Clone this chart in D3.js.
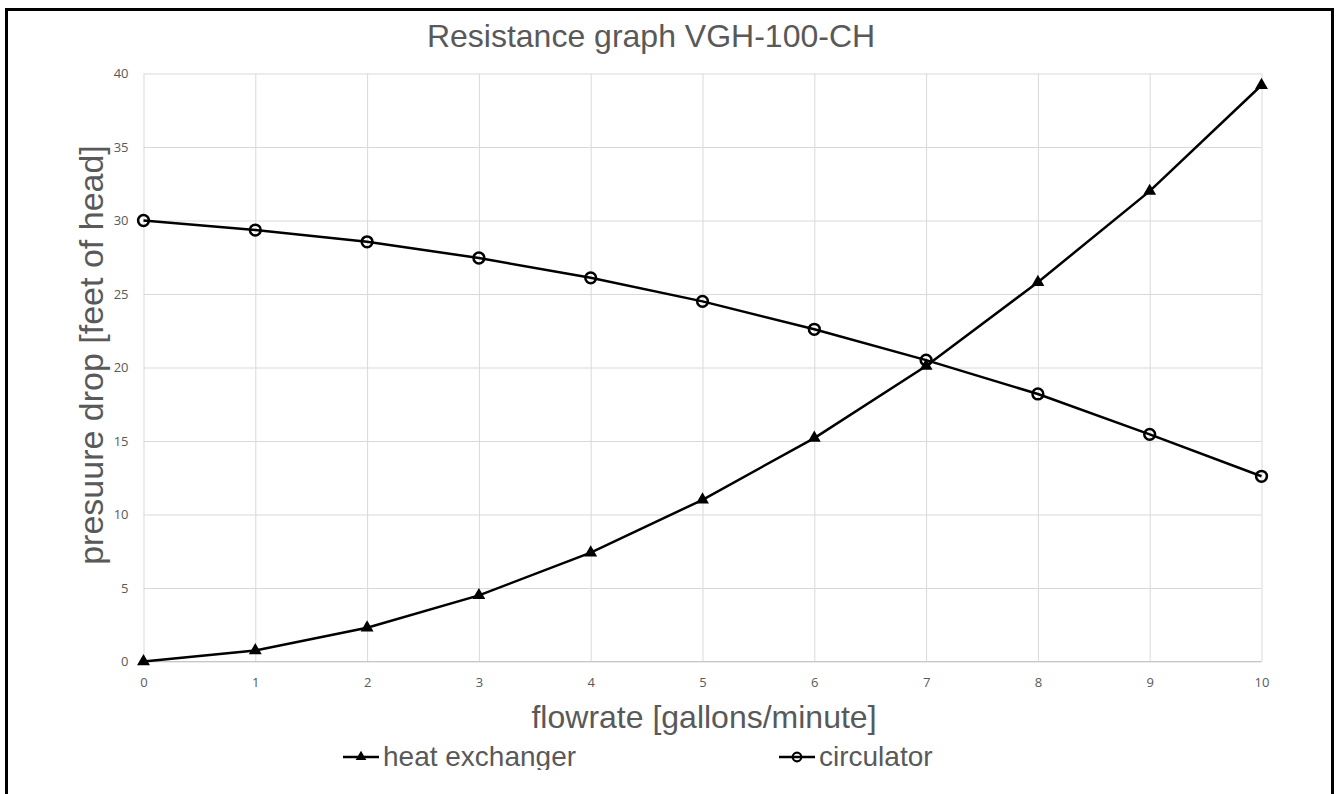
<!DOCTYPE html>
<html>
<head>
<meta charset="utf-8">
<script src="https://cdn.jsdelivr.net/npm/d3@7"></script>
<style>
  html, body { margin: 0; padding: 0; background: #fff; }
  svg { display: block; }
</style>
</head>
<body>
<svg id="chart" width="1339" height="794"></svg>
<script>
// Flow rate in gallons per minute
const flowrate = [0, 1, 2, 3, 4, 5, 6, 7, 8, 9, 10];
// Pressure drop of the heat exchanger, feet of head
const heatExchanger = [0, 0.75, 2.3, 4.5, 7.4, 11.0, 15.2, 20.1, 25.8, 32.0, 39.2];
// Pump head of the circulator, feet of head
const circulator = [30.0, 29.35, 28.55, 27.45, 26.1, 24.5, 22.6, 20.5, 18.2, 15.45, 12.6];

const xTicks = [0, 1, 2, 3, 4, 5, 6, 7, 8, 9, 10];
const yTicks = [0, 5, 10, 15, 20, 25, 30, 35, 40];

const titleText = "Resistance graph VGH-100-CH";
const xTitle = "flowrate [gallons/minute]";
const yTitle = "presuure drop [feet of head]";
const seriesNames = ["heat exchanger", "circulator"];

const svg = d3.select("#chart");
const textColor = "#595959";
const gridColor = "#d9d9d9";
const font = "'Liberation Sans', Arial, sans-serif";
const tickFont = "'Open Sans', 'Noto Sans', sans-serif";

// Outer frame of the chart
svg.append("rect")
  .attr("x", 6.5).attr("y", 9.5)
  .attr("width", 1326).attr("height", 820)
  .attr("fill", "none").attr("stroke", "#000").attr("stroke-width", 3);

const x = d3.scaleLinear().domain([0, 10]).range([143.5, 1261.5]);
const y = d3.scaleLinear().domain([0, 40]).range([661.5, 73.5]);

// Gridlines
const gx = svg.append("g").attr("transform", `translate(0,${y(0)})`)
  .call(d3.axisBottom(x).tickValues(xTicks).tickSize(-(y(0) - y(40))).tickFormat(""));
gx.select(".domain").remove();
gx.selectAll("line").attr("stroke", gridColor).attr("stroke-width", 1);

const gy = svg.append("g").attr("transform", `translate(${x(0)},0)`)
  .call(d3.axisLeft(y).tickValues(yTicks).tickSize(-(x(10) - x(0))).tickFormat(""));
gy.select(".domain").remove();
gy.selectAll("line").attr("stroke", gridColor).attr("stroke-width", 1);

// Base line of the value axis
svg.append("line")
  .attr("x1", x(0)).attr("x2", x(10)).attr("y1", y(0)).attr("y2", y(0))
  .attr("stroke", "#c6c6c6").attr("stroke-width", 1);

// Tick labels
const xl = svg.append("g").attr("transform", `translate(0,${y(0) + 16})`)
  .call(d3.axisBottom(x).tickValues(xTicks).tickSize(0).tickPadding(0));
xl.select(".domain").remove();
xl.selectAll("text").attr("fill", textColor).attr("font-family", tickFont).attr("font-size", 13);

const yl = svg.append("g").attr("transform", `translate(${x(0) - 15},0)`)
  .call(d3.axisLeft(y).tickValues(yTicks).tickSize(0).tickPadding(0));
yl.select(".domain").remove();
yl.selectAll("text").attr("fill", textColor).attr("font-family", tickFont).attr("font-size", 13);

// Titles
svg.append("text")
  .attr("x", 651).attr("y", 47)
  .attr("text-anchor", "middle")
  .attr("font-family", font).attr("font-size", 32).attr("fill", textColor)
  .text(titleText);

svg.append("text")
  .attr("x", 704).attr("y", 728)
  .attr("text-anchor", "middle")
  .attr("font-family", font).attr("font-size", 32).attr("fill", textColor)
  .text(xTitle);

svg.append("text")
  .attr("transform", `translate(103,355) rotate(-90)`)
  .attr("text-anchor", "middle")
  .attr("font-family", font).attr("font-size", 34).attr("fill", textColor)
  .text(yTitle);

// Series
const line = d3.line().x((d, i) => x(flowrate[i])).y(d => y(d));
const tri = d3.symbol().type(d3.symbolTriangle).size(72);

svg.append("path").datum(heatExchanger)
  .attr("d", line).attr("fill", "none").attr("stroke", "#000").attr("stroke-width", 2.5);
svg.append("path").datum(circulator)
  .attr("d", line).attr("fill", "none").attr("stroke", "#000").attr("stroke-width", 2.5);

svg.append("g").selectAll("path").data(heatExchanger).join("path")
  .attr("transform", (d, i) => `translate(${x(flowrate[i])},${y(d)})`)
  .attr("d", tri).attr("fill", "#000");

svg.append("g").selectAll("circle").data(circulator).join("circle")
  .attr("cx", (d, i) => x(flowrate[i])).attr("cy", d => y(d))
  .attr("r", 5.4).attr("fill", "none").attr("stroke", "#000").attr("stroke-width", 2.5);

// Legend, cut off by the lower edge of the chart area
svg.append("clipPath").attr("id", "legendClip")
  .append("rect").attr("x", 0).attr("y", 0).attr("width", 1339).attr("height", 770);
const legend = svg.append("g").attr("clip-path", "url(#legendClip)");

const legendItems = [
  { name: seriesNames[0], x0: 343, marker: "tri" },
  { name: seriesNames[1], x0: 779, marker: "circle" }
];
const ly = 757;
legendItems.forEach(it => {
  legend.append("line")
    .attr("x1", it.x0).attr("x2", it.x0 + 36).attr("y1", ly).attr("y2", ly)
    .attr("stroke", "#000").attr("stroke-width", 2.5);
  if (it.marker === "tri") {
    legend.append("path")
      .attr("transform", `translate(${it.x0 + 18},${ly})`)
      .attr("d", d3.symbol().type(d3.symbolTriangle).size(50)).attr("fill", "#000");
  } else {
    legend.append("circle")
      .attr("cx", it.x0 + 18).attr("cy", ly).attr("r", 4.3)
      .attr("fill", "none").attr("stroke", "#000").attr("stroke-width", 2.2);
  }
  legend.append("text")
    .attr("x", it.x0 + 40).attr("y", 766)
    .attr("font-family", font).attr("font-size", 28).attr("fill", textColor)
    .text(it.name);
});
</script>
</body>
</html>
